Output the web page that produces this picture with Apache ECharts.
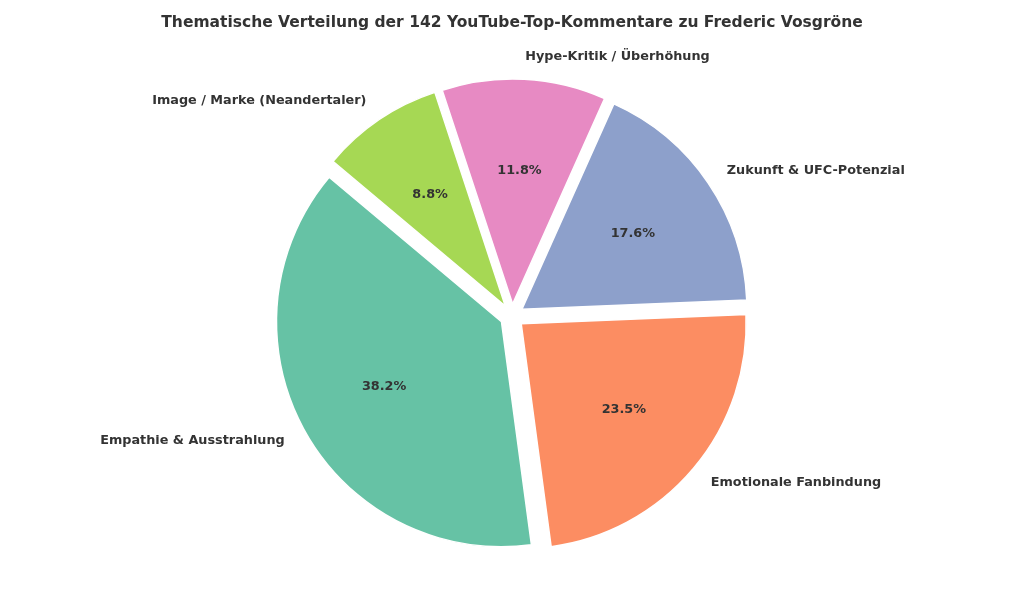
<!DOCTYPE html>
<html>
<head>
<meta charset="utf-8">
<script src="https://cdn.jsdelivr.net/npm/echarts@6/dist/echarts.min.js"></script>
<style>
  html, body { margin: 0; padding: 0; background: #fff; }
  #chart { width: 1024px; height: 614px; }
</style>
</head>
<body>
<div id="chart"></div>
<script>
// Themen und Anzahl Kommentare (aus den Prozentwerten zurückgerechnet, Summe 34)
var categories = [
    'Empathie & Ausstrahlung',
    'Emotionale Fanbindung',
    'Zukunft & UFC-Potenzial',
    'Hype-Kritik / Überhöhung',
    'Image / Marke (Neandertaler)'
];
var counts = [13, 8, 6, 4, 3];
var colors = ['#66c2a5', '#fc8d62', '#8da0cb', '#e78ac3', '#a6d854'];

var font = 'DejaVu Sans';
var R = 225;      // Radius
var explode = 12; // Versatz der Segmente
var center = [512, 316];

var pieData = categories.map(function(name, i){
    return {
        name: name,
        value: counts[i],
        selected: true,
        itemStyle: { color: colors[i] }
    };
});
var pctData = categories.map(function(name, i){
    return { name: name, value: counts[i] };
});

var chart = echarts.init(document.getElementById('chart'), null, { renderer: 'canvas' });
chart.setOption({
    backgroundColor: '#ffffff',
    animation: false,
    title: {
        text: 'Thematische Verteilung der 142 YouTube-Top-Kommentare zu Frederic Vosgröne',
        left: 'center',
        top: 10,
        textStyle: { fontFamily: font, fontSize: 15.5, fontWeight: 'bold', color: '#333333' }
    },
    series: [
        {
            type: 'pie',
            center: center,
            radius: [0, R],
            startAngle: 140,
            clockwise: false,
            silent: true,
            selectedMode: 'multiple',
            selectedOffset: explode,
            avoidLabelOverlap: false,
            itemStyle: { borderColor: '#ffffff', borderWidth: 1.5 },
            emphasis: { disabled: true, scale: false },
            label: {
                show: true,
                position: 'outside',
                formatter: '{b}',
                fontFamily: font,
                fontSize: 12.8,
                fontWeight: 'bold',
                color: '#333333',
                distanceToLabelLine: 0
            },
            labelLine: { show: false, length: 0.1 * R, length2: 0 },
            data: pieData
        },
        {
            // nur für die Prozentangaben im Inneren
            type: 'pie',
            center: center,
            radius: [0, 2 * (0.6 * R + explode - 4)],
            startAngle: 140,
            clockwise: false,
            silent: true,
            itemStyle: { color: 'rgba(0,0,0,0)' },
            emphasis: { disabled: true, scale: false },
            label: {
                show: true,
                position: 'inside',
                formatter: function(p){ return p.percent.toFixed(1) + '%'; },
                fontFamily: font,
                fontSize: 12.8,
                fontWeight: 'bold',
                color: '#333333'
            },
            labelLine: { show: false },
            data: pctData,
            z: 5
        }
    ]
});
</script>
</body>
</html>
